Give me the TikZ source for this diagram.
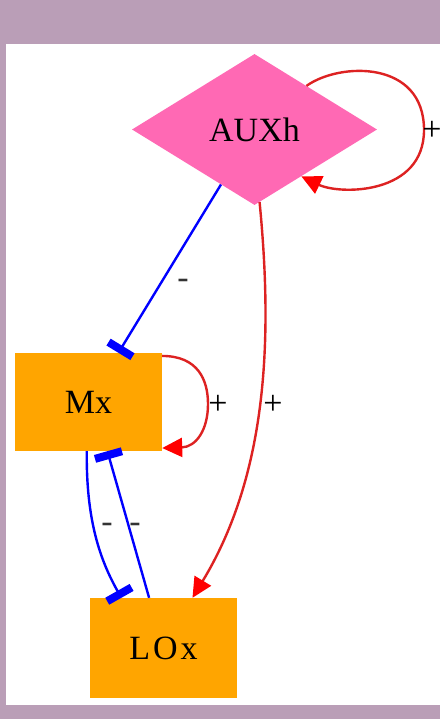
\documentclass[tikz,border=0pt]{standalone}
\usepackage{fontspec}
\setmainfont{Liberation Serif}
\usetikzlibrary{shapes.geometric,arrows.meta}
\definecolor{bgpurple}{HTML}{BA9EB7}
\definecolor{auxpink}{HTML}{FF69B4}
\definecolor{geneorange}{HTML}{FFA500}
\definecolor{edgered}{HTML}{DD2222}

\begin{document}
\begin{tikzpicture}[x=1pt, y=-1pt,
    gene/.style={fill=geneorange, minimum width=147pt, minimum height=98pt, inner sep=0pt, font=\fontsize{34}{40}\selectfont},
    act/.style={edgered, line width=2.4pt, -{Triangle[length=20pt, width=19pt, color=red]}},
    inh/.style={blue, line width=2.4pt, -{Rectangle[length=8pt, width=28pt]}},
    sign/.style={inner sep=0pt, font=\fontsize{34}{40}\selectfont}]
    \useasboundingbox (0, 0) rectangle (440, 719);
    % frame
    \fill[bgpurple] (0, 0) rectangle (440, 719);
    \fill[white] (6, 44) rectangle (440, 705);

    % nodes
    \node[diamond, fill=auxpink, aspect=1.62, minimum width=245pt, minimum height=151pt, inner sep=0pt,
        font=\fontsize{34}{40}\selectfont] (aux) at (254.5, 129.5) {AUXh};
    \node[gene] (mx) at (88.5, 402) {Mx};
    \node[gene, minimum height=100pt] (lox) at (163.5, 648) {L\kern3pt O\kern3pt x};

    % AUXh self loop
    \draw[act] (aux.40) .. controls (340, 62) and (424, 60) .. (424, 130)
        .. controls (424, 195) and (340, 195) .. (aux.-45);
    \node[sign] (lauxself) at (432, 131) {+};

    % AUXh -| Mx
    \draw[inh] (aux) -- (mx);
    \node[sign, black!80] (lauxmx) at (183, 284) {-};

    % AUXh -> LOx
    \draw[act] (aux.-86) .. controls (272, 330) and (270, 470) .. (lox.60);
    \node[sign] (lauxlox) at (273, 405) {+};

    % Mx self loop
    \draw[act] (mx.32) .. controls (198, 356) and (208, 380) .. (208, 404)
        .. controls (208, 430) and (196, 447) .. (mx.-32);
    \node[sign] (lmxself) at (218, 405) {+};

    % Mx -| LOx and LOx -| Mx
    \draw[inh] (mx.-92) .. controls (86, 520) and (100, 560) .. (lox.130);
    \node[sign, black!80] (lmxlox) at (107, 528) {-};
    \draw[inh] (lox.106) -- (mx.-69);
    \node[sign, black!80] (lloxmx) at (135, 528) {-};

\end{tikzpicture}
\end{document}
